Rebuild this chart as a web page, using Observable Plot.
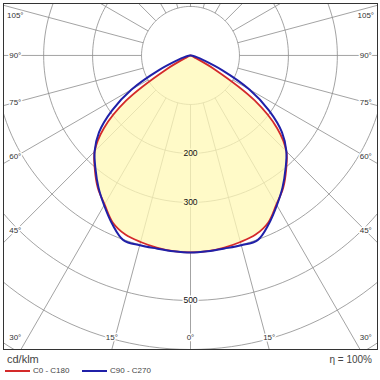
<!DOCTYPE html>
<html><head><meta charset="utf-8">
<script src="https://cdn.jsdelivr.net/npm/d3@7"></script>
<script src="https://cdn.jsdelivr.net/npm/@observablehq/plot@0.6"></script>
<style>
body{margin:0;background:#fff;font-family:"Liberation Sans",Arial,sans-serif;}
#wrap{width:380px;}
#legend{position:relative;width:380px;height:28px;color:#444;}
#legend span{position:absolute;white-space:nowrap;}
#legend i{position:absolute;height:2px;width:25px;}
</style></head><body>
<div id="wrap"></div>
<div id="legend">
  <span style="left:7px;top:1px;font-size:11px;line-height:12px;">cd/klm</span>
  <span style="right:8px;top:2px;font-size:10px;line-height:12px;">η = 100%</span>
  <i style="left:5px;top:18px;background:#d42a2a;"></i>
  <span style="left:33px;top:14px;font-size:8px;line-height:10px;">C0 - C180</span>
  <i style="left:82px;top:18px;background:#2020a8;"></i>
  <span style="left:110px;top:14px;font-size:8px;line-height:10px;">C90 - C270</span>
</div>
<script>
// gamma angles (degrees from nadir) and luminous intensity (cd/klm)
const gamma   = [0,5,10,15,20,25,30,35,40,45,50,55,60,65,70,75,80,85,90];
const c0c180  = [402,401,398,394,389,376,351,330,304,277,231,160,58,8,3,1,0,0,0];
const c90c270 = [402,401,400,401,401,379,353,328,302,277,244,196,139,72,28,13,6,2,0];
const gridRadii = [100,200,300,400,500,600,700];
const radiusLabels = [200,300,500];
const angleTicks = [0,15,30,45,60,75,90,105];
const spokeAngles = d3.range(0,360,15);

const rad = d => d*Math.PI/180;
function fullCurve(vals){
  const pts=[];
  for (let i=gamma.length-1;i>=0;i--) pts.push({x:-vals[i]*Math.sin(rad(gamma[i])), y:-vals[i]*Math.cos(rad(gamma[i]))});
  for (let i=1;i<gamma.length;i++) pts.push({x:vals[i]*Math.sin(rad(gamma[i])), y:-vals[i]*Math.cos(rad(gamma[i]))});
  return pts;
}
const redPts = fullCurve(c0c180), bluePts = fullCurve(c90c270);
const fillRows = gamma.map((g,i)=>({y:-c0c180[i]*Math.cos(rad(g)), x1:-c0c180[i]*Math.sin(rad(g)), x2:c0c180[i]*Math.sin(rad(g))}));
const circles = gridRadii.flatMap(r => d3.range(0,361,2).map(a=>({r, x:r*Math.sin(rad(a)), y:r*Math.cos(rad(a))})));
const spokes = spokeAngles.map(a=>({x1:100*Math.sin(rad(a)), y1:-100*Math.cos(rad(a)), x2:1000*Math.sin(rad(a)), y2:-1000*Math.cos(rad(a))}));

const SIDE=358, BOTTOM=-575, TOP=82, FRAMEB=600;
const angleLabelRows = angleTicks.flatMap(a => (a===0?[1]:[-1,1]).map(s => {
  let x,y;
  if (a>=30){ x=s*SIDE; y=-SIDE/Math.tan(rad(a)); y=Math.max(BOTTOM,Math.min(TOP,y)); }
  else { y=BOTTOM; x=s*FRAMEB*Math.tan(rad(a)); }
  return {x,y,label:`${a}°`};
}));
const rLabels = radiusLabels.map(v=>({x:0,y:-v,label:String(v),inside:v<c0c180[0]}));

const FILL="#fff8b6", HALO_IN="#fffac8";
const font="Liberation Sans, Arial, sans-serif";
const grid="#8c8c8c";

const chart = Plot.plot({
  width:380, height:352, margin:3,
  x:{domain:[-382,382], axis:null},
  y:{domain:[-600,106], axis:null},
  style:{background:"white", fontFamily:font},
  marks:[
    Plot.line(circles,{x:"x",y:"y",z:"r",stroke:grid,strokeWidth:0.8,clip:true}),
    Plot.link(spokes,{x1:"x1",y1:"y1",x2:"x2",y2:"y2",stroke:grid,strokeWidth:0.8,clip:true}),
    Plot.areaX(fillRows,{y:"y",x1:"x1",x2:"x2",fill:FILL,fillOpacity:0.75,curve:"catmull-rom"}),
    Plot.text(rLabels.filter(d=>d.inside),{x:"x",y:"y",text:"label",fontSize:8.5,fill:"#111",stroke:HALO_IN,strokeWidth:3,paintOrder:"stroke",fontFamily:font}),
    Plot.text(rLabels.filter(d=>!d.inside),{x:"x",y:"y",text:"label",fontSize:8.5,fill:"#111",stroke:"white",strokeWidth:3,paintOrder:"stroke",fontFamily:font}),
    Plot.line(redPts,{x:"x",y:"y",stroke:"#d42a2a",strokeWidth:1.8,curve:"catmull-rom"}),
    Plot.line(bluePts,{x:"x",y:"y",stroke:"#2020a8",strokeWidth:2,curve:"catmull-rom"}),
    Plot.text(angleLabelRows,{x:"x",y:"y",text:"label",fontSize:8,fill:"#333",stroke:"white",strokeWidth:3,paintOrder:"stroke",fontFamily:font}),
    Plot.frame({stroke:"#333",strokeWidth:1})
  ]
});
document.getElementById("wrap").appendChild(chart);
</script>
</body></html>
